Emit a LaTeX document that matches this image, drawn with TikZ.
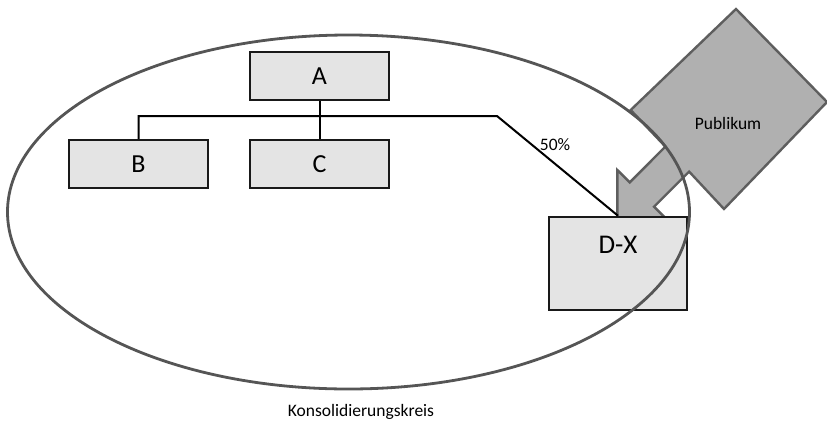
\documentclass[tikz,border=0pt]{standalone}
\usepackage{fontspec}
\setmainfont{Carlito}
\definecolor{boxgray}{HTML}{E4E4E4}
\definecolor{pubgray}{HTML}{B0B0B0}
\definecolor{publine}{HTML}{5E5E5E}
\definecolor{ringgray}{HTML}{555555}
\begin{document}
\begin{tikzpicture}[x=1pt,y=-1pt,line join=miter,
		box/.style={draw=black!90,fill=boxgray,line width=2.5pt,minimum width=139pt,minimum height=48pt,inner sep=0pt,font=\fontsize{26}{26}\selectfont},
		conn/.style={draw=black,line width=2pt},
		small/.style={font=\fontsize{17.5}{17.5}\selectfont,inner sep=0pt}]
	\useasboundingbox (0,0) rectangle (827,421);
	% Tochtergesellschaften
	\node[box] (A) at (319.5,76) {A};
	\node[box] (B) at (138.5,164) {B};
	\node[box] (C) at (319.5,164) {C};
	\coordinate (bend) at (497,116);
	\draw[conn] (A.south) -- (C.north);
	% Publikum mit Pfeil
	\coordinate (pt) at (736,9);
	\coordinate (pr) at (827,102);
	\coordinate (pb) at (724,209);
	\coordinate (pl) at (630.7,110);
	\draw[fill=pubgray,draw=publine,line width=2.4pt] (pt) -- (pr) -- (pb) -- (689.1,171.6) -- (654,206.7)
		-- (666.4,219) -- (617.3,219) -- (617.3,170) -- (629.7,182.4) -- (665.4,146.6) -- (pl) -- cycle;
	\node[small] (pub) at (728,123) {Publikum};
	\node[box,minimum width=138pt,minimum height=93pt] (DX) at (618,263.5) {};
	\node[font=\fontsize{27}{27}\selectfont,inner sep=0pt] (dxlabel) at (618,245) {D-X};
	\draw[conn] (B.north) |- (bend) -- (DX.north);
	\node[small] (pct) at (555,145) {50\%};
	% Konsolidierungskreis
	\draw[draw=ringgray,line width=2.8pt] (348.5,212) ellipse (341 and 177);
	\node[small] (kreis) at (361,412) {Konsolidierungskreis};
\end{tikzpicture}
\end{document}
